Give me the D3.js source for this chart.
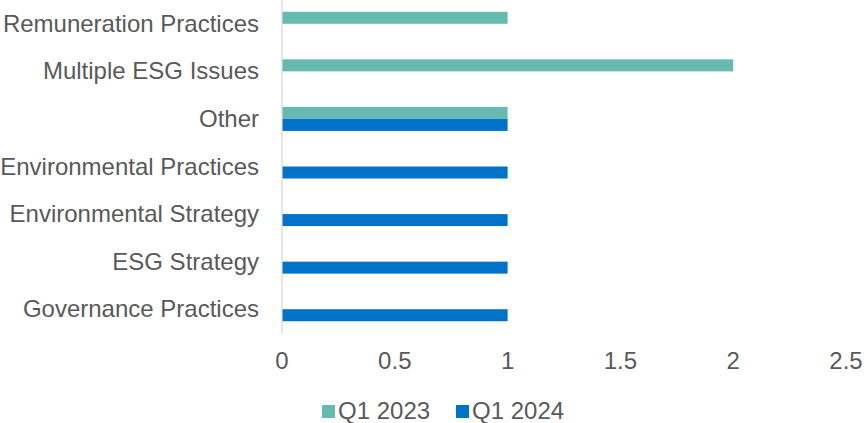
<!doctype html>
<html>
<head>
<meta charset="UTF-8">
<script src="https://d3js.org/d3.v7.min.js"></script>
<style>
  body { margin: 0; background: #fff; }
  text { font-family: "Liberation Sans", Arial, sans-serif; fill: #595959; }
</style>
</head>
<body>
<svg id="chart" width="864" height="423"></svg>
<script>
const categories = ["Remuneration Practices", "Multiple ESG Issues", "Other",
  "Environmental Practices", "Environmental Strategy", "ESG Strategy", "Governance Practices"];
const seriesNames = ["Q1 2023", "Q1 2024"];
const q1_2023 = [1, 2, 1, 0, 0, 0, 0];
const q1_2024 = [0, 0, 1, 1, 1, 1, 1];
const xTicks = [0, 0.5, 1, 1.5, 2, 2.5];
const colors = ["#67BAB0", "#0072C9"];

const svg = d3.select("#chart");
const x = d3.scaleLinear().domain([0, 2.5]).range([282, 846]);
const y = d3.scaleBand().domain(categories).range([0, 333]);
const inner = d3.scaleBand().domain(seriesNames)
  .range([y.bandwidth() / 2 - 12, y.bandwidth() / 2 + 12]);

const rows = [];
categories.forEach((c, i) => {
  rows.push({cat: c, s: seriesNames[0], v: q1_2023[i]});
  rows.push({cat: c, s: seriesNames[1], v: q1_2024[i]});
});

svg.selectAll("rect.bar")
  .data(rows.filter(d => d.v > 0))
  .enter().append("rect")
  .attr("class", "bar")
  .attr("x", x(0))
  .attr("y", d => y(d.cat) + inner(d.s))
  .attr("width", d => x(d.v) - x(0))
  .attr("height", inner.bandwidth())
  .attr("fill", d => colors[seriesNames.indexOf(d.s)]);

// vertical axis line
svg.append("line")
  .attr("x1", x(0)).attr("x2", x(0))
  .attr("y1", 0).attr("y2", 333)
  .attr("stroke", "#d9d9d9").attr("stroke-width", 1.3);

// category labels
svg.selectAll("text.cat")
  .data(categories)
  .enter().append("text")
  .attr("class", "cat")
  .attr("x", 259)
  .attr("y", d => y(d) + y.bandwidth() / 2 + 8)
  .attr("text-anchor", "end")
  .style("font-size", "24px")
  .text(d => d);

// x tick labels
svg.selectAll("text.tick")
  .data(xTicks)
  .enter().append("text")
  .attr("class", "tick")
  .attr("x", d => x(d))
  .attr("y", 369)
  .attr("text-anchor", "middle")
  .style("font-size", "24px")
  .text(d => d);

// legend
const legend = svg.append("g");
const legX = [322, 456];
seriesNames.forEach((s, i) => {
  legend.append("rect")
    .attr("x", legX[i]).attr("y", 405)
    .attr("width", 13).attr("height", 13)
    .attr("fill", colors[i]);
  legend.append("text")
    .attr("x", legX[i] + 16).attr("y", 419)
    .style("font-size", "24px")
    .text(s);
});
</script>
</body>
</html>
